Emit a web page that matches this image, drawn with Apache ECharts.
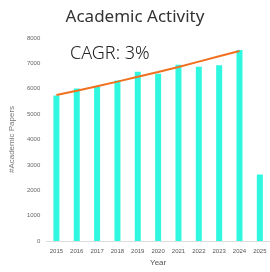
<!DOCTYPE html>
<html>
<head>
<meta charset="utf-8">
<script src="https://cdn.jsdelivr.net/npm/echarts@6/dist/echarts.min.js"></script>
<style>
  html, body { margin: 0; padding: 0; background: #fff; }
  #chart { width: 270px; height: 272px; }
</style>
</head>
<body>
<div id="chart"></div>
<script>
const years = ["2015", "2016", "2017", "2018", "2019", "2020", "2021", "2022", "2023", "2024", "2025"];
const papers = [5730, 6010, 6090, 6330, 6670, 6590, 6950, 6870, 6930, 7530, 2620];
// trend line (CAGR 3%)
const trend = [5750, 5920, 6100, 6280, 6470, 6660, 6860, 7070, 7280, 7490, null];
const yTicks = [0, 1000, 2000, 3000, 4000, 5000, 6000, 7000, 8000];

const chart = echarts.init(document.getElementById("chart"));
chart.setOption({
  animation: false,
  title: {
    text: "Academic Activity",
    left: "center",
    top: 4,
    textStyle: { fontFamily: "Noto Sans", fontSize: 17, fontWeight: "normal", color: "#333" }
  },
  graphic: [{
    type: "text",
    left: 70,
    top: 45,
    style: { text: "CAGR: 3%", fontFamily: "Noto Sans", fontSize: 18, fontWeight: 300, fill: "#222" }
  }],
  grid: { left: 44.6, right: -3.4, top: 38, bottom: 30 },
  xAxis: {
    type: "category",
    data: years,
    name: "Year",
    nameLocation: "middle",
    nameGap: 18,
    nameTextStyle: { fontSize: 8, color: "#555" },
    axisLine: { lineStyle: { color: "#ddd" } },
    axisTick: { show: false },
    axisLabel: { fontSize: 6, color: "#555", margin: 7, interval: 0 }
  },
  yAxis: {
    type: "value",
    min: yTicks[0],
    max: yTicks[yTicks.length - 1],
    interval: 1000,
    name: "#Academic Papers",
    nameLocation: "middle",
    nameGap: 22,
    nameTextStyle: { fontSize: 8, color: "#777" },
    splitLine: { show: false },
    axisLine: { show: false },
    axisTick: { show: false },
    axisLabel: { fontSize: 6, color: "#666", margin: 6, formatter: (v) => String(v) }
  },
  series: [
    {
      type: "bar",
      data: papers,
      barWidth: 6,
      itemStyle: { color: "#30f8e0" }
    },
    {
      type: "line",
      data: trend,
      symbol: "none",
      lineStyle: { color: "#f07020", width: 2 },
      z: 3
    }
  ]
});
</script>
</body>
</html>
